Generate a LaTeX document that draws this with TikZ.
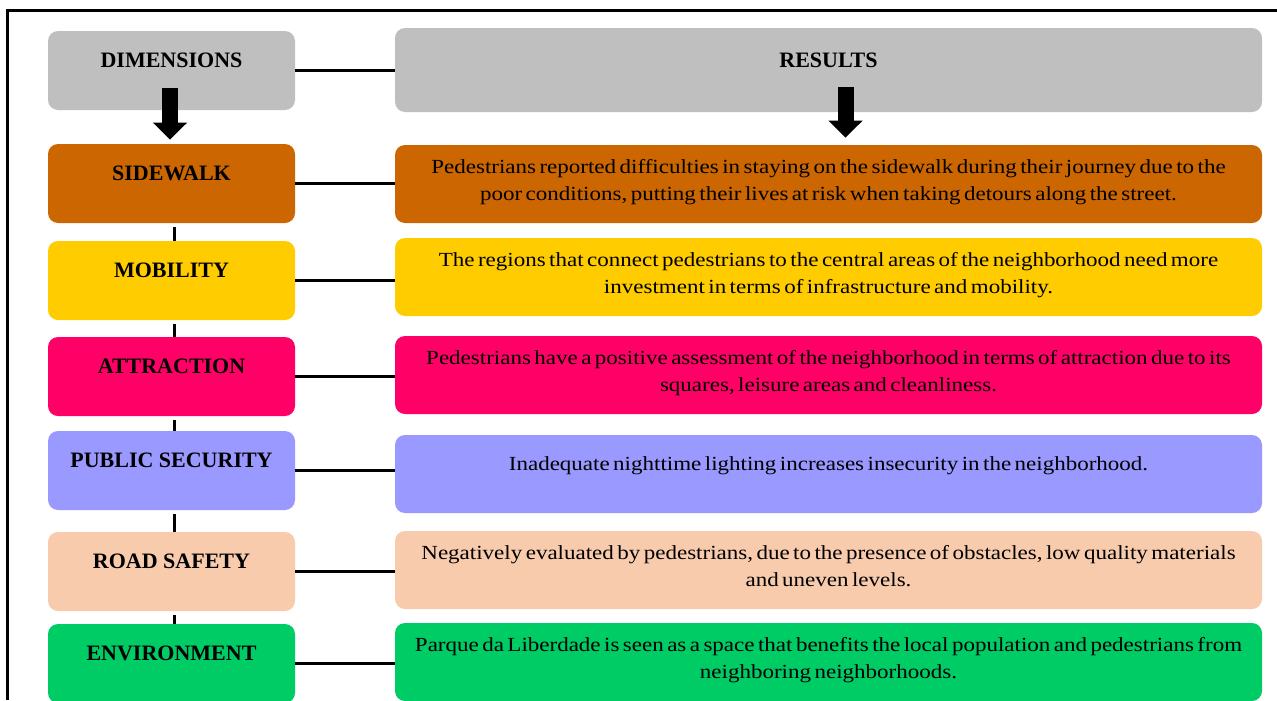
\documentclass[tikz,border=0pt]{standalone}
\usepackage{fontspec}
\setmainfont{Liberation Serif}
\newfontfamily\resfont[FakeStretch=1.15,WordSpace=0.6]{Liberation Serif}
\usepackage{tikz}
\usetikzlibrary{arrows.meta}
\newdimen\px \px=0.75pt
\definecolor{hdrgray}{HTML}{BFBFBF}
\definecolor{swcol}{HTML}{CC6600}
\definecolor{mobcol}{HTML}{FFCC00}
\definecolor{attrcol}{HTML}{FF0066}
\definecolor{seccol}{HTML}{9999FF}
\definecolor{roadcol}{HTML}{F8CBAD}
\definecolor{envcol}{HTML}{00CC66}
\begin{document}
\begin{tikzpicture}[x=0.75pt,y=-0.75pt,
  dimbox/.style={rounded corners=10\px,inner sep=0pt,minimum width=247\px,text height=36\px,text depth=43\px,font=\fontsize{16.5}{20}\selectfont\bfseries},
  resbox/.style={rounded corners=10\px,inner sep=0pt,minimum width=867\px,text height=55\px,text depth=23\px,align=center,font=\resfont\fontsize{15}{20.25}\selectfont},
  oneline/.style={text height=35.5\px,text depth=42.5\px},
  link/.style={line width=3\px},
  down/.style={line width=12pt,-{Triangle[width=24.75pt,length=12.75pt]}}]

\useasboundingbox (0,0) rectangle (1277,700);
\draw[line width=2.5\px] (7.5,700) -- (7.5,10.5) -- (1277,10.5);

\node[dimbox,fill=hdrgray] (dims) at (171.5,70.5) {DIMENSIONS};
\node[dimbox,fill=swcol] (sw) at (171.5,183.5) {SIDEWALK};
\node[dimbox,fill=mobcol] (mob) at (171.5,280.5) {MOBILITY};
\node[dimbox,fill=attrcol] (attr) at (171.5,376.5) {ATTRACTION};
\node[dimbox,fill=seccol] (sec) at (171.5,470.5) {PUBLIC SECURITY};
\node[dimbox,fill=roadcol] (road) at (171.5,571.5) {ROAD SAFETY};
\node[dimbox,fill=envcol] (env) at (171.5,663.5) {ENVIRONMENT};

\node[resbox,fill=hdrgray,text height=39\px,text depth=45\px,font=\fontsize{16.5}{20}\selectfont\bfseries] (res) at (828.5,70) {RESULTS};
\node[resbox,fill=swcol] (rsw) at (828.5,184) {Pedestrians reported difficulties in staying on the sidewalk during their journey due to the\\poor conditions, putting their lives at risk when taking detours along the street.};
\node[resbox,fill=mobcol] (rmob) at (828.5,277) {The regions that connect pedestrians to the central areas of the neighborhood need more\\investment in terms of infrastructure and mobility.};
\node[resbox,fill=attrcol] (rattr) at (828.5,375) {Pedestrians have a positive assessment of the neighborhood in terms of attraction due to its\\squares, leisure areas and cleanliness.};
\node[resbox,oneline,fill=seccol] (rsec) at (828.5,474) {Inadequate nighttime lighting increases insecurity in the neighborhood.};
\node[resbox,fill=roadcol] (rroad) at (828.5,570) {Negatively evaluated by pedestrians, due to the presence of obstacles, low quality materials\\and uneven levels.};
\node[resbox,fill=envcol] (renv) at (828.5,662) {Parque da Liberdade is seen as a space that benefits the local population and pedestrians from\\neighboring neighborhoods.};

\draw[down] ([xshift=-1.125pt,yshift=16.5pt]dims.south) -- ([xshift=-1.125pt,yshift=3pt]sw.north);
\draw[down] ([xshift=12.75pt,yshift=18.75pt]res.south) -- ([xshift=12.75pt,yshift=5.25pt]rsw.north);

\foreach \a/\b in {dims/res,sw/rsw,mob/rmob,attr/rattr,sec/rsec,road/rroad,env/renv}{\draw[link] (\a.east) -- (\a.east -| \b.west);}
\foreach \a/\b in {sw/mob,mob/attr,attr/sec,sec/road,road/env}{\draw[link] ([xshift=1.875pt,yshift=-3pt]\a.south) -- ([xshift=1.875pt]\b.north);}

\end{tikzpicture}
\end{document}
